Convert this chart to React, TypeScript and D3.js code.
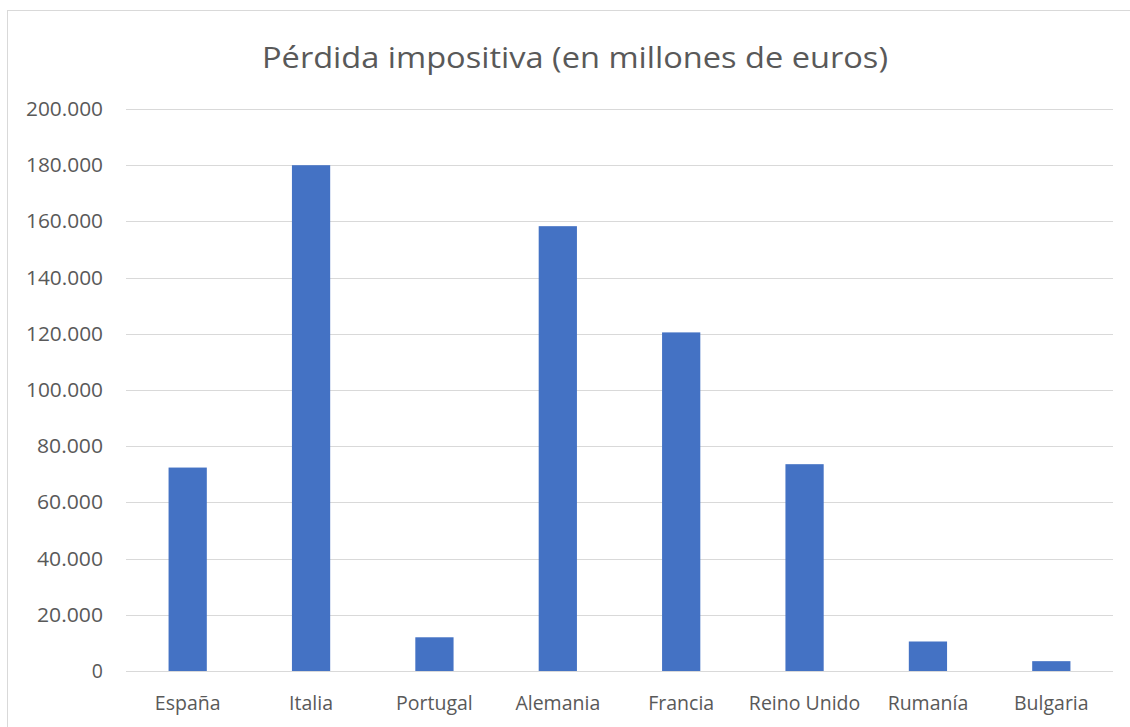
import React from "react";
import * as d3 from "d3";

const categories = ["España", "Italia", "Portugal", "Alemania", "Francia", "Reino Unido", "Rumanía", "Bulgaria"];
const values = [72400, 180000, 12000, 158300, 120500, 73600, 10500, 3500];
const yTicks = [0, 20000, 40000, 60000, 80000, 100000, 120000, 140000, 160000, 180000, 200000];
const title = "Pérdida impositiva (en millones de euros)";

const W = 1130;
const H = 727;
const plot = { left: 126, right: 1113, top: 109, bottom: 671 };
const font = "'Open Sans', 'Noto Sans', sans-serif";
const textColor = "#595959";

const fmt = (v: number) => d3.format(",")(v).replace(/,/g, ".");

export default function App() {
  const x = d3.scaleBand<string>()
    .domain(categories)
    .range([plot.left, plot.right])
    .paddingInner(0.69)
    .paddingOuter(0.345);
  const y = d3.scaleLinear().domain([0, 200000]).range([plot.bottom, plot.top]);

  return (
    <svg width={W} height={H} style={{ position: "absolute", left: 0, top: 0, background: "#fff" }}>
      <rect x={7.5} y={10.5} width={W} height={H} fill="#fff" stroke="#d9d9d9" strokeWidth={1} />
      <text x={575} y={68} textAnchor="middle" fontFamily={font} fontSize={29} fill={textColor}
        textLength={626} lengthAdjust="spacingAndGlyphs">{title}</text>
      {yTicks.map(t => (
        <g key={t}>
          <line x1={plot.left} x2={plot.right} y1={Math.round(y(t)) + 0.5} y2={Math.round(y(t)) + 0.5}
            stroke="#d9d9d9" strokeWidth={1.2} />
          <text x={103} y={y(t) + 7} textAnchor="end" fontFamily={font} fontSize={19.5} fill={textColor}
            textLength={fmt(t).length > 1 ? fmt(t).length * 11 : undefined}
            lengthAdjust="spacingAndGlyphs">{fmt(t)}</text>
        </g>
      ))}
      {categories.map((c, i) => (
        <rect key={c} x={x(c)} y={y(values[i])} width={x.bandwidth()} height={y(0) - y(values[i])} fill="#4472C4" />
      ))}
      {categories.map(c => (
        <text key={c} x={(x(c) ?? 0) + x.bandwidth() / 2} y={710} textAnchor="middle" fontFamily={font}
          fontSize={19.5} fill={textColor}>{c}</text>
      ))}
    </svg>
  );
}
